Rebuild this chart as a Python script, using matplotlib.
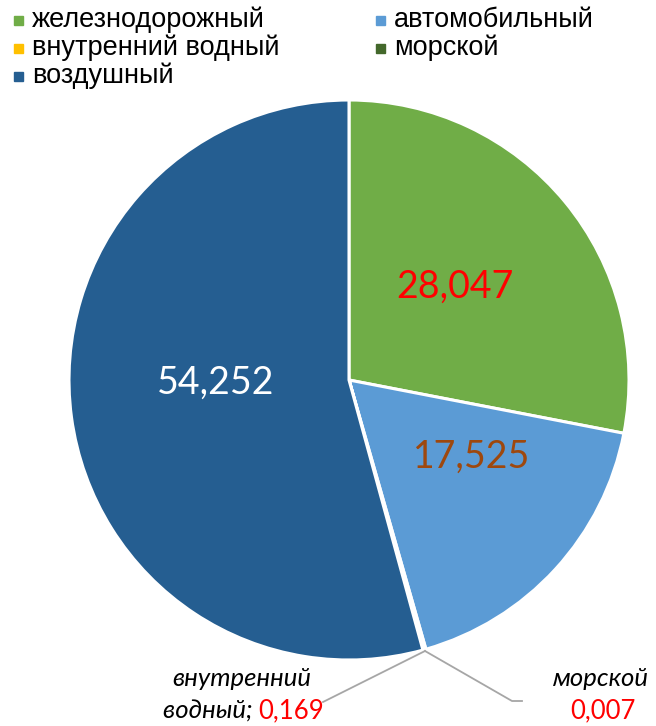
import matplotlib
matplotlib.use("Agg")
import matplotlib.pyplot as plt
from matplotlib.patches import Rectangle

categories = ["железнодорожный", "автомобильный", "внутренний водный", "морской", "воздушный"]
values = [28.047, 17.525, 0.169, 0.007, 54.252]
value_labels = ["28,047", "17,525", "0,169", "0,007", "54,252"]
colors = ["#70AD47", "#5B9BD5", "#FFC000", "#43682B", "#255E91"]

W, H = 656, 726
fig = plt.figure(figsize=(W / 100, H / 100), dpi=100)

cx, cy, R = 349, 380, 280
ax = fig.add_axes([(cx - R) / W, (H - cy - R) / H, 2 * R / W, 2 * R / H])
wedges, _ = ax.pie(values, colors=colors, startangle=90, counterclock=False, radius=1,
                   wedgeprops=dict(edgecolor="white", linewidth=2.2))
ax.set_xlim(-1, 1)
ax.set_ylim(-1, 1)
ax.set_aspect("equal")
ax.axis("off")

def d(px, py):
    return ((px - cx) / R, (cy - py) / R)

numfont = dict(family=["Lato", "DejaVu Sans"], fontsize=27)
ax.text(*d(455, 287), value_labels[0], color="#FF0000", ha="center", va="center", **numfont)
ax.text(*d(472, 457), value_labels[1], color="#9E480E", ha="center", va="center", **numfont)
ax.text(*d(216, 383), value_labels[4], color="white", ha="center", va="center", **numfont)

# leader lines
p0 = d(425, 651)
ax.plot([p0[0], d(323, 702)[0]], [p0[1], d(323, 702)[1]], color="#A6A6A6", lw=1.3, clip_on=False)
ax.plot([p0[0], d(512, 701)[0], d(522, 701)[0]], [p0[1], d(512, 701)[1], d(522, 701)[1]],
        color="#A6A6A6", lw=1.3, clip_on=False)

lblfont = dict(family=["Lato", "DejaVu Sans"], fontsize=18.5)
ax.text(*d(242, 679), "внутренний", style="italic", color="black", ha="center", va="center",
        clip_on=False, **lblfont)
t = ax.text(*d(163, 711), "водный; ", style="italic", color="black", ha="left", va="center",
            clip_on=False, **lblfont)
ax.annotate(value_labels[2], xycoords=t, xy=(1, 0.5), va="center", ha="left",
            color="#FF0000", annotation_clip=False, **lblfont)
ax.text(*d(601, 679), "морской", style="italic", color="black", ha="center", va="center",
        clip_on=False, **lblfont)
ax.text(*d(603, 711), value_labels[3], color="#FF0000", ha="center", va="center",
        clip_on=False, **lblfont)

# legend (row-major, 2 columns)
leg_x = [14, 376]
leg_y = [20, 48, 76]
for i, (cat, col) in enumerate(zip(categories, colors)):
    r, c = divmod(i, 2)
    x, y = leg_x[c], leg_y[r]
    fig.patches.append(Rectangle((x / W, (H - y - 4.5) / H), 9 / W, 9 / H, color=col,
                                 transform=fig.transFigure, figure=fig))
    fig.text((x + 18) / W, (H - y) / H, cat, fontsize=19.5, family=["Liberation Sans", "DejaVu Sans"],
             ha="left", va="center", color="black")

fig.savefig("out.png", dpi=100)
